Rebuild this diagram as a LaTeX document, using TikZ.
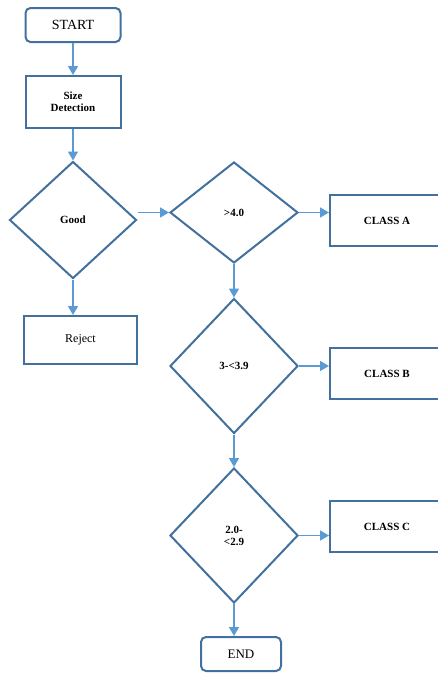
\documentclass[tikz,border=0pt]{standalone}
\usepackage{fontspec}
\setmainfont{Liberation Serif}
\usetikzlibrary{shapes.geometric,arrows.meta}
\definecolor{boxblue}{HTML}{41719C}
\definecolor{arrblue}{HTML}{5B9BD5}
\tikzset{
  box/.style={draw=boxblue, line width=2pt, fill=white, rectangle, inner sep=0pt, align=center},
  rbox/.style={box, rounded corners=5pt},
  dia/.style={draw=boxblue, line width=2pt, fill=white, diamond, inner sep=0pt, align=center, font=\bfseries\fontsize{11}{12}\selectfont},
  arr/.style={draw=arrblue, line width=1.6pt, -{Triangle[width=10pt,length=9pt]}},
}
\begin{document}
\begin{tikzpicture}[x=1pt,y=-1pt]
\useasboundingbox (0,0) rectangle (438,673);
\node[rbox, minimum width=95pt, minimum height=34pt, font=\fontsize{14}{15}\selectfont] (start) at (73,25) {START};
\node[box, minimum width=95pt, minimum height=52pt, font=\bfseries\fontsize{11}{12}\selectfont] (size) at (73,102) {Size\\Detection};
\node[dia, minimum width=127pt, minimum height=117pt] (good) at (73,220) {Good};
\node[dia, minimum width=128pt, minimum height=101pt] (gt4) at (234,212.5) {>4.0};
\node[box, minimum width=113pt, minimum height=48pt, font=\fontsize{12}{13}\selectfont] (rej) at (80.5,340) {Reject};
\node[box, minimum width=114pt, minimum height=51pt, font=\bfseries\fontsize{11}{12}\selectfont] (classA) at (387,220.5) {CLASS A};
\node[dia, minimum width=128pt, minimum height=135pt] (b39) at (234,366) {3-<3.9};
\node[box, minimum width=114pt, minimum height=51pt, font=\bfseries\fontsize{11}{12}\selectfont] (classB) at (387,373.5) {CLASS B};
\node[dia, minimum width=128pt, minimum height=135pt] (c29) at (234,535.5) {2.0-\\<2.9};
\node[box, minimum width=114pt, minimum height=51pt, font=\bfseries\fontsize{11}{12}\selectfont] (classC) at (387,526.5) {CLASS C};
\node[rbox, minimum width=80pt, minimum height=34pt, font=\fontsize{13}{14}\selectfont] (end) at (241,654) {END};
\draw[arr] (start.south) -- (size.north);
\draw[arr] (size.south) -- (good.north);
\draw[arr] (good.south) -- (good.south |- rej.north);
\draw[arr] (gt4.west -| good.east) -- (gt4.west);
\draw[arr] (gt4.east) -- (gt4.east -| classA.west);
\draw[arr] (gt4.south) -- (b39.north);
\draw[arr] (b39.east) -- (b39.east -| classB.west);
\draw[arr] (b39.south) -- (c29.north);
\draw[arr] (c29.east) -- (c29.east -| classC.west);
\draw[arr] (c29.south) -- (c29.south |- end.north);
\end{tikzpicture}
\end{document}
